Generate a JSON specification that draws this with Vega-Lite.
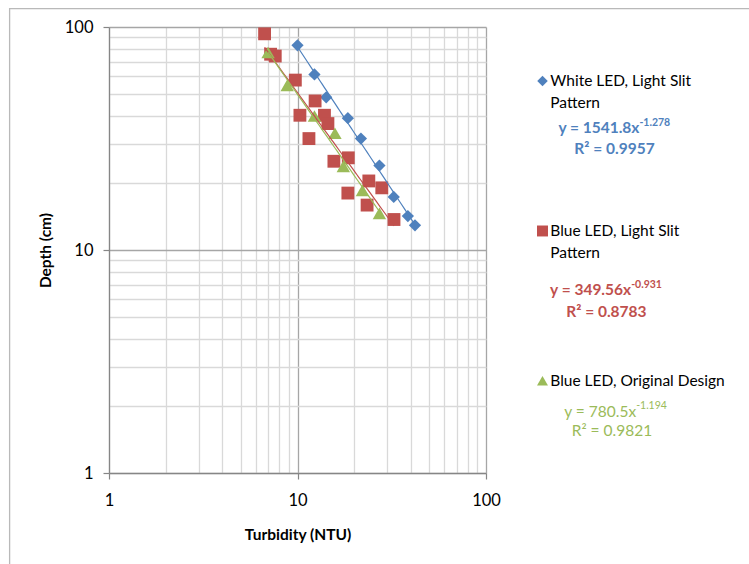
{
  "$schema": "https://vega.github.io/schema/vega-lite/v6.json",
  "width": 377,
  "height": 446,
  "autosize": "none",
  "padding": {"left": 109, "top": 27, "right": 263, "bottom": 91},
  "background": "white",
  "config": {"view": {"stroke": null}, "font": "Lato"},
  "datasets": {
    "points": [
      {"series": "White LED, Light Slit Pattern", "turb": 10.0, "depth": 82.8},
      {"series": "White LED, Light Slit Pattern", "turb": 12.3, "depth": 61.3},
      {"series": "White LED, Light Slit Pattern", "turb": 14.2, "depth": 48.4},
      {"series": "White LED, Light Slit Pattern", "turb": 18.5, "depth": 39.0},
      {"series": "White LED, Light Slit Pattern", "turb": 21.7, "depth": 31.6},
      {"series": "White LED, Light Slit Pattern", "turb": 27.2, "depth": 23.9},
      {"series": "White LED, Light Slit Pattern", "turb": 32.4, "depth": 17.3},
      {"series": "White LED, Light Slit Pattern", "turb": 38.5, "depth": 14.2},
      {"series": "White LED, Light Slit Pattern", "turb": 42.0, "depth": 12.9},
      {"series": "Blue LED, Light Slit Pattern", "turb": 6.69, "depth": 93.2},
      {"series": "Blue LED, Light Slit Pattern", "turb": 7.2, "depth": 75.5},
      {"series": "Blue LED, Light Slit Pattern", "turb": 7.62, "depth": 74.1},
      {"series": "Blue LED, Light Slit Pattern", "turb": 9.74, "depth": 57.8},
      {"series": "Blue LED, Light Slit Pattern", "turb": 12.4, "depth": 46.6},
      {"series": "Blue LED, Light Slit Pattern", "turb": 10.3, "depth": 40.2},
      {"series": "Blue LED, Light Slit Pattern", "turb": 13.9, "depth": 40.2},
      {"series": "Blue LED, Light Slit Pattern", "turb": 14.5, "depth": 36.9},
      {"series": "Blue LED, Light Slit Pattern", "turb": 11.5, "depth": 31.6},
      {"series": "Blue LED, Light Slit Pattern", "turb": 15.6, "depth": 25.0},
      {"series": "Blue LED, Light Slit Pattern", "turb": 18.6, "depth": 25.9},
      {"series": "Blue LED, Light Slit Pattern", "turb": 23.9, "depth": 20.4},
      {"series": "Blue LED, Light Slit Pattern", "turb": 28.0, "depth": 19.0},
      {"series": "Blue LED, Light Slit Pattern", "turb": 18.5, "depth": 18.0},
      {"series": "Blue LED, Light Slit Pattern", "turb": 23.4, "depth": 15.9},
      {"series": "Blue LED, Light Slit Pattern", "turb": 32.5, "depth": 13.7},
      {"series": "Blue LED, Original Design", "turb": 6.98, "depth": 76.9},
      {"series": "Blue LED, Original Design", "turb": 8.82, "depth": 54.7},
      {"series": "Blue LED, Original Design", "turb": 12.3, "depth": 39.9},
      {"series": "Blue LED, Original Design", "turb": 15.8, "depth": 33.4},
      {"series": "Blue LED, Original Design", "turb": 17.5, "depth": 23.7},
      {"series": "Blue LED, Original Design", "turb": 22.1, "depth": 18.5},
      {"series": "Blue LED, Original Design", "turb": 27.2, "depth": 14.6}
    ],
    "legend": [
      {"series": "White LED, Light Slit Pattern", "label": "White LED, Light Slit\nPattern", "eq": "y = 1541.8x", "exp": "-1.278", "r2": "R² = 0.9957"},
      {"series": "Blue LED, Light Slit Pattern", "label": "Blue LED, Light Slit\nPattern", "eq": "y = 349.56x", "exp": "-0.931", "r2": "R² = 0.8783"},
      {"series": "Blue LED, Original Design", "label": "Blue LED, Original Design", "eq": "y = 780.5x", "exp": "-1.194", "r2": "R² = 0.9821"}
    ]
  },
  "layer": [
    {
      "data": {"name": "legend"},
      "transform": [{"filter": "datum.series === 'Blue LED, Original Design'"}],
      "mark": {"type": "rect", "filled": false, "color": "#b9b9b9", "strokeWidth": 1.3},
      "encoding": {
        "x": {"datum": 0.297},
        "x2": {"datum": 100000},
        "y": {"datum": 121},
        "y2": {"datum": 0.0001}
      }
    },
    {
      "data": {"name": "points"},
      "mark": {"type": "point", "filled": true, "opacity": 1},
      "encoding": {
        "x": {
          "field": "turb", "type": "quantitative",
          "scale": {"type": "log", "domain": [1, 100]},
          "axis": {
            "values": [1, 2, 3, 4, 5, 6, 7, 8, 9, 10, 20, 30, 40, 50, 60, 70, 80, 90, 100],
            "title": "Turbidity (NTU)",
            "labelExpr": "(datum.value == 1 || datum.value == 10 || datum.value == 100) ? toString(datum.value) : ''",
            "labelFlush": false, "labelOverlap": false,
            "labelFont": "Lato", "labelFontSize": 16.5, "labelColor": "#000000",
            "labelPadding": 13.5, "labelBaseline": "top",
            "tickSize": 6, "tickColor": "#868686", "tickWidth": 1.2,
            "tickOpacity": {"condition": {"test": "datum.value == 1 || datum.value == 10 || datum.value == 100", "value": 1}, "value": 0},
            "grid": true,
            "gridColor": {"condition": {"test": "datum.value == 10 || datum.value == 100", "value": "#a6a6a6"}, "value": "#d9d9d9"},
            "gridWidth": 1.3,
            "domainColor": "#868686", "domainWidth": 1.3,
            "titleFont": "Lato", "titleFontSize": 15.5, "titleFontWeight": "bold", "titleColor": "#000000",
            "titlePadding": 18
          }
        },
        "y": {
          "field": "depth", "type": "quantitative",
          "scale": {"type": "log", "domain": [1, 100]},
          "axis": {
            "values": [1, 2, 3, 4, 5, 6, 7, 8, 9, 10, 20, 30, 40, 50, 60, 70, 80, 90, 100],
            "title": "Depth (cm)",
            "labelExpr": "(datum.value == 1 || datum.value == 10 || datum.value == 100) ? toString(datum.value) : ''",
            "labelFlush": false, "labelOverlap": false,
            "labelFont": "Lato", "labelFontSize": 16.5, "labelColor": "#000000",
            "labelPadding": 10,
            "tickSize": 6, "tickColor": "#868686", "tickWidth": 1.2,
            "tickOpacity": {"condition": {"test": "datum.value == 1 || datum.value == 10 || datum.value == 100", "value": 1}, "value": 0},
            "grid": true,
            "gridColor": {"condition": {"test": "datum.value == 10 || datum.value == 100", "value": "#a6a6a6"}, "value": "#d9d9d9"},
            "gridWidth": 1.3,
            "domainColor": "#868686", "domainWidth": 1.3,
            "titleFont": "Lato", "titleFontSize": 15.5, "titleFontWeight": "bold", "titleColor": "#000000",
            "titlePadding": 11
          }
        },
        "color": {
          "field": "series", "type": "nominal",
          "scale": {"domain": ["White LED, Light Slit Pattern", "Blue LED, Light Slit Pattern", "Blue LED, Original Design"], "range": ["#4F81BD", "#C0504D", "#9BBB59"]},
          "legend": null
        },
        "shape": {
          "field": "series", "type": "nominal",
          "scale": {"domain": ["White LED, Light Slit Pattern", "Blue LED, Light Slit Pattern", "Blue LED, Original Design"], "range": ["diamond", "square", "triangle-up"]},
          "legend": null
        },
        "size": {
          "field": "series", "type": "nominal",
          "scale": {"domain": ["White LED, Light Slit Pattern", "Blue LED, Light Slit Pattern", "Blue LED, Original Design"], "range": [150, 180, 175]},
          "legend": null
        }
      }
    },
    {
      "data": {"name": "points"},
      "transform": [{"regression": "depth", "on": "turb", "groupby": ["series"], "method": "pow"}],
      "mark": {"type": "line", "strokeWidth": 1.2},
      "encoding": {
        "x": {"field": "turb", "type": "quantitative"},
        "y": {"field": "depth", "type": "quantitative"},
        "color": {"field": "series", "type": "nominal", "legend": null}
      }
    },
    {
      "data": {"name": "legend"},
      "transform": [{"filter": "datum.series === 'White LED, Light Slit Pattern'"}],
      "layer": [
        {"mark": {"type": "point", "filled": true, "opacity": 1, "shape": "diamond", "size": 110, "color": "#4F81BD"},
         "encoding": {"x": {"datum": 199.4}, "y": {"datum": 57.3}}},
        {"mark": {"type": "text", "align": "left", "baseline": "middle", "lineBreak": "\n", "lineHeight": 22, "fontSize": 15.5, "font": "Lato", "color": "#000000"},
         "encoding": {"x": {"datum": 219.3}, "y": {"datum": 57.3}, "text": {"field": "label"}}},
        {"mark": {"type": "text", "align": "right", "baseline": "middle", "fontSize": 15.5, "fontWeight": "bold", "font": "Lato", "color": "#4F81BD"},
         "encoding": {"x": {"datum": 651.6}, "y": {"datum": 35.08}, "text": {"field": "eq"}}},
        {"mark": {"type": "text", "align": "left", "baseline": "middle", "fontSize": 10.5, "fontWeight": "bold", "font": "Lato", "color": "#4F81BD"},
         "encoding": {"x": {"datum": 651.6}, "y": {"datum": 37.0}, "text": {"field": "exp"}}},
        {"mark": {"type": "text", "align": "center", "baseline": "middle", "fontSize": 15.5, "fontWeight": "bold", "font": "Lato", "color": "#4F81BD"},
         "encoding": {"x": {"datum": 480.5}, "y": {"datum": 28.25}, "text": {"field": "r2"}}}
      ]
    },
    {
      "data": {"name": "legend"},
      "transform": [{"filter": "datum.series === 'Blue LED, Light Slit Pattern'"}],
      "layer": [
        {"mark": {"type": "point", "filled": true, "opacity": 1, "shape": "square", "size": 120, "color": "#C0504D"},
         "encoding": {"x": {"datum": 199.4}, "y": {"datum": 12.17}}},
        {"mark": {"type": "text", "align": "left", "baseline": "middle", "lineBreak": "\n", "lineHeight": 22, "fontSize": 15.5, "font": "Lato", "color": "#000000"},
         "encoding": {"x": {"datum": 219.3}, "y": {"datum": 12.17}, "text": {"field": "label"}}},
        {"mark": {"type": "text", "align": "right", "baseline": "middle", "fontSize": 15.5, "fontWeight": "bold", "font": "Lato", "color": "#C0504D"},
         "encoding": {"x": {"datum": 588.8}, "y": {"datum": 6.62}, "text": {"field": "eq"}}},
        {"mark": {"type": "text", "align": "left", "baseline": "middle", "fontSize": 10.5, "fontWeight": "bold", "font": "Lato", "color": "#C0504D"},
         "encoding": {"x": {"datum": 588.8}, "y": {"datum": 6.98}, "text": {"field": "exp"}}},
        {"mark": {"type": "text", "align": "center", "baseline": "middle", "fontSize": 15.5, "fontWeight": "bold", "font": "Lato", "color": "#C0504D"},
         "encoding": {"x": {"datum": 435.3}, "y": {"datum": 5.29}, "text": {"field": "r2"}}}
      ]
    },
    {
      "data": {"name": "legend"},
      "transform": [{"filter": "datum.series === 'Blue LED, Original Design'"}],
      "layer": [
        {"mark": {"type": "point", "filled": true, "opacity": 1, "shape": "triangle-up", "size": 120, "color": "#9BBB59"},
         "encoding": {"x": {"datum": 199.4}, "y": {"datum": 2.59}}},
        {"mark": {"type": "text", "align": "left", "baseline": "middle", "fontSize": 15.5, "font": "Lato", "color": "#000000"},
         "encoding": {"x": {"datum": 219.3}, "y": {"datum": 2.59}, "text": {"field": "label"}}},
        {"mark": {"type": "text", "align": "right", "baseline": "middle", "fontSize": 15.5, "font": "Lato", "color": "#9BBB59"},
         "encoding": {"x": {"datum": 626}, "y": {"datum": 1.887}, "text": {"field": "eq"}}},
        {"mark": {"type": "text", "align": "left", "baseline": "middle", "fontSize": 10.5, "font": "Lato", "color": "#9BBB59"},
         "encoding": {"x": {"datum": 626}, "y": {"datum": 1.99}, "text": {"field": "exp"}}},
        {"mark": {"type": "text", "align": "center", "baseline": "middle", "fontSize": 15.5, "font": "Lato", "color": "#9BBB59"},
         "encoding": {"x": {"datum": 465.6}, "y": {"datum": 1.536}, "text": {"field": "r2"}}}
      ]
    }
  ]
}
